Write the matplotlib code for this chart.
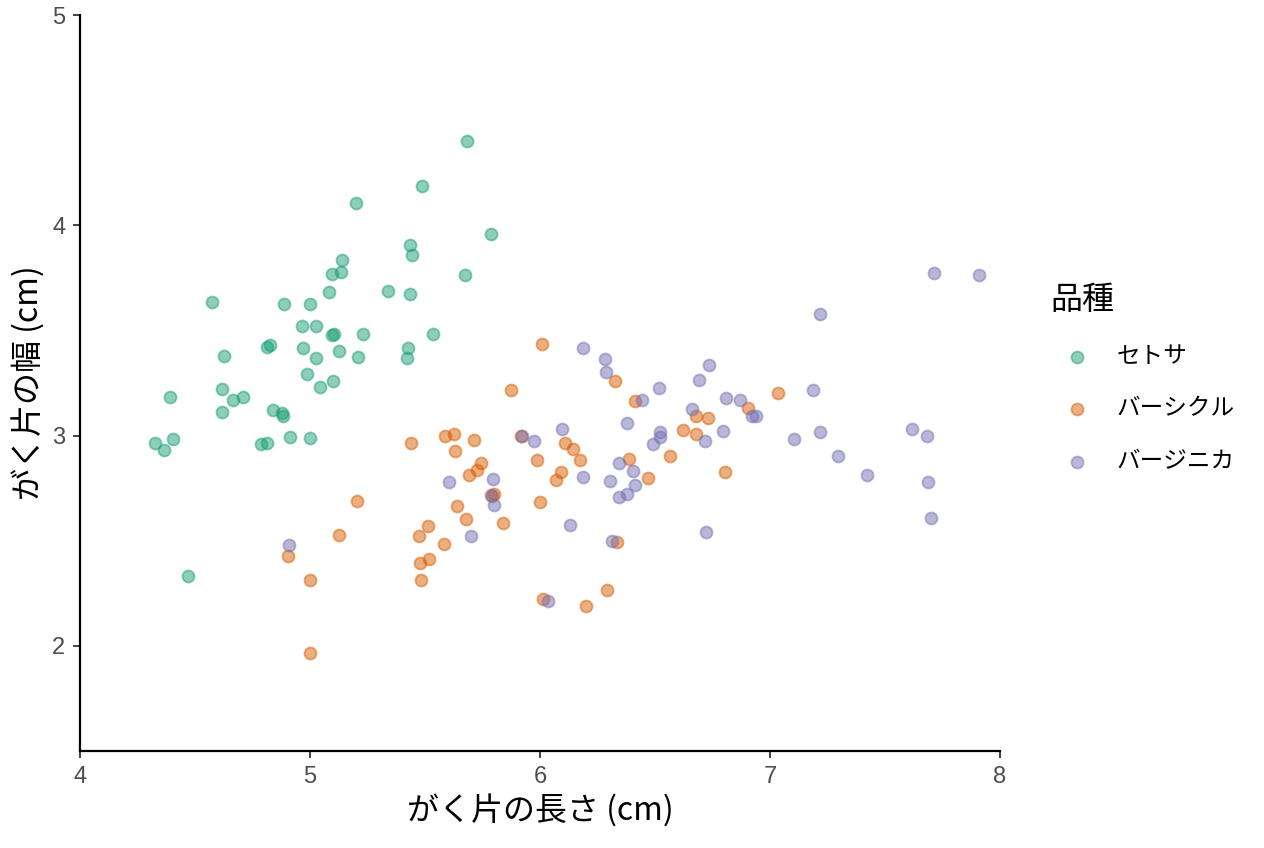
import matplotlib
matplotlib.use("Agg")
import matplotlib.pyplot as plt

plt.rcParams['font.family'] = ['Noto Sans CJK JP', 'DejaVu Sans']

# values (jittered iris sepal data)
setosa_x = [5.683, 5.486, 5.200, 5.787, 5.435, 5.443, 5.139, 5.096, 5.133, 5.674,
            4.574, 4.886, 5.000, 5.339, 5.083, 5.435, 4.964, 5.025, 5.535, 5.230,
            5.104, 5.097, 4.812, 4.826, 4.970, 5.426, 4.625, 5.025, 5.127, 5.209,
            5.422, 4.987, 5.100, 5.043, 4.616, 4.391, 4.665, 4.707, 4.840, 4.877,
            4.881, 4.616, 4.326, 4.367, 4.403, 4.787, 4.814, 4.912, 5.000, 4.470]
setosa_y = [4.401, 4.188, 4.107, 3.959, 3.908, 3.859, 3.835, 3.768, 3.779, 3.764,
            3.635, 3.627, 3.626, 3.688, 3.683, 3.673, 3.521, 3.521, 3.483, 3.483,
            3.483, 3.478, 3.423, 3.429, 3.417, 3.418, 3.379, 3.369, 3.404, 3.374,
            3.369, 3.294, 3.260, 3.230, 3.222, 3.182, 3.169, 3.184, 3.123, 3.109,
            3.093, 3.112, 2.963, 2.932, 2.984, 2.960, 2.966, 2.992, 2.990, 2.334]

versicolor_x = [6.007, 5.874, 6.326, 6.413, 7.037, 6.903, 6.677, 6.730, 6.623, 6.677,
                5.439, 5.588, 5.626, 5.629, 5.712, 5.919, 6.110, 6.145, 6.172, 5.988,
                6.388, 5.743, 5.725, 5.690, 6.090, 6.070, 6.470, 6.567, 6.803, 5.800,
                5.791, 5.639, 6.001, 5.203, 5.514, 5.678, 5.840, 5.474, 5.583, 6.336,
                5.478, 5.519, 5.481, 5.126, 4.906, 4.999, 6.012, 6.291, 6.199, 5.000]
versicolor_y = [3.436, 3.215, 3.261, 3.165, 3.203, 3.130, 3.093, 3.082, 3.025, 3.008,
                2.965, 2.998, 3.008, 2.925, 2.979, 2.996, 2.963, 2.938, 2.884, 2.884,
                2.888, 2.871, 2.836, 2.813, 2.825, 2.788, 2.800, 2.903, 2.825, 2.722,
                2.713, 2.667, 2.684, 2.690, 2.572, 2.603, 2.586, 2.521, 2.486, 2.494,
                2.396, 2.413, 2.312, 2.529, 2.427, 2.313, 2.222, 2.264, 2.188, 1.966]

virginica_x = [7.713, 7.910, 7.219, 6.736, 6.691, 6.516, 6.443, 6.809, 6.870, 7.185,
               6.920, 6.938, 6.662, 6.522, 6.522, 6.490, 6.719, 6.796, 7.106, 7.217,
               7.297, 7.422, 7.616, 7.681, 7.686, 7.701, 6.720, 6.413, 6.186, 6.283,
               6.287, 6.380, 6.096, 5.920, 5.975, 5.606, 5.797, 5.785, 5.801, 6.186,
               6.342, 6.406, 6.304, 6.377, 6.345, 6.129, 6.314, 6.033, 5.699, 4.910]
virginica_y = [3.773, 3.765, 3.578, 3.337, 3.263, 3.225, 3.169, 3.177, 3.171, 3.218,
               3.095, 3.093, 3.128, 3.019, 2.992, 2.961, 2.974, 3.023, 2.985, 3.019,
               2.903, 2.814, 3.031, 3.000, 2.781, 2.608, 2.540, 2.767, 3.415, 3.364,
               3.301, 3.062, 3.031, 2.998, 2.976, 2.778, 2.794, 2.715, 2.670, 2.805,
               2.871, 2.833, 2.784, 2.722, 2.707, 2.573, 2.500, 2.215, 2.523, 2.481]

species = ['セトサ', 'バーシクル', 'バージニカ']
colors = ['#1B9E77', '#D95F02', '#7570B3']

fig = plt.figure(figsize=(12.64, 8.48), dpi=100)
ax = fig.add_axes([0.0633, 0.1144, 0.7278, 0.8679])

for xs, ys, name, c in zip([setosa_x, versicolor_x, virginica_x],
                           [setosa_y, versicolor_y, virginica_y],
                           species, colors):
    ax.scatter(xs, ys, s=75, color=c, alpha=0.5, linewidths=1.3,
               edgecolors=c, label=name)

ax.set_xlim(4, 8)
ax.set_ylim(1.5, 5)
ax.set_xticks([4, 5, 6, 7, 8])
ax.set_yticks([2, 3, 4, 5])
for s in ['top', 'right']:
    ax.spines[s].set_visible(False)
for s in ['left', 'bottom']:
    ax.spines[s].set_linewidth(1.6)
ax.tick_params(direction='out', length=5, width=1.3, color='#333333',
               labelsize=17, labelcolor='#4D4D4D', pad=5.5)
for lab in ax.get_xticklabels() + ax.get_yticklabels():
    lab.set_family(['Liberation Sans', 'DejaVu Sans'])

ax.set_xlabel('がく片の長さ (cm)', fontsize=23, labelpad=5)
ax.set_ylabel('がく片の幅 (cm)', fontsize=23, labelpad=5)

leg = ax.legend(title='品種', loc='upper left', bbox_to_anchor=(1.045, 0.648),
                frameon=False, fontsize=17, title_fontsize=23,
                alignment='left', labelspacing=1.25, handletextpad=0.6,
                borderaxespad=0, handlelength=2.2)

fig.savefig('out.png', dpi=100)
